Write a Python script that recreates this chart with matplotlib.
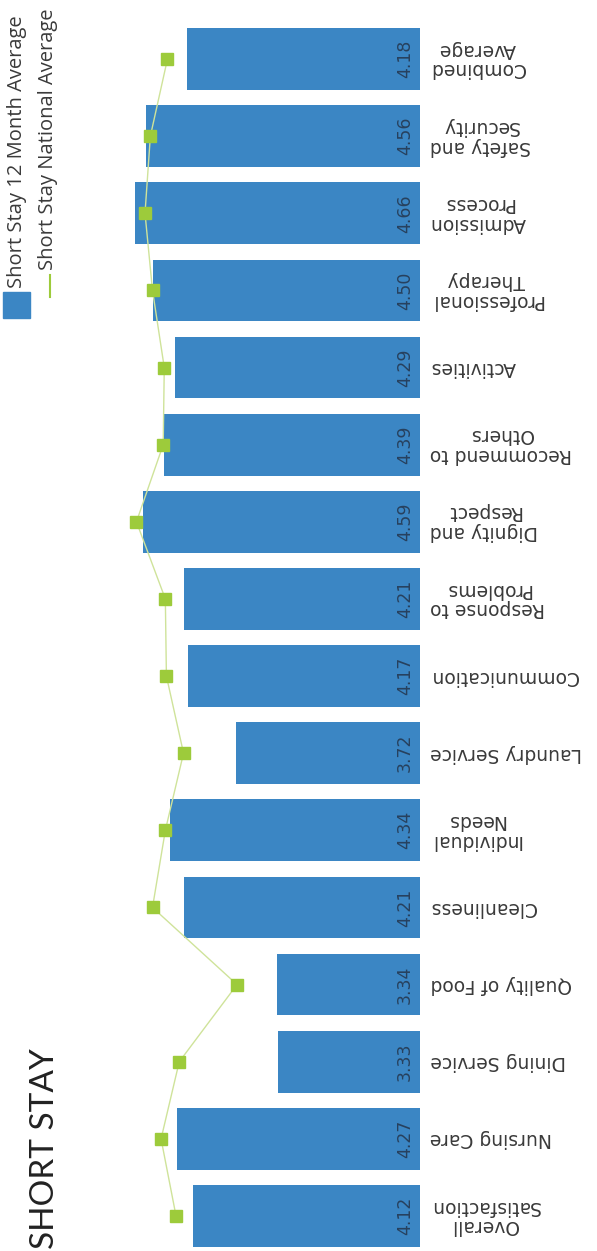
import matplotlib
matplotlib.use("Agg")
import matplotlib.pyplot as plt
from matplotlib.patches import Rectangle
from matplotlib.lines import Line2D

# survey categories, bottom row first
categories = ['Overall\nSatisfaction', 'Nursing Care', 'Dining Service', 'Quality of Food',
              'Cleanliness', 'Individual\nNeeds', 'Laundry Service', 'Communication',
              'Response to\nProblems', 'Dignity and\nRespect', 'Recommend to\nOthers',
              'Activities', 'Professional\nTherapy', 'Admission\nProcess',
              'Safety and\nSecurity', 'Combined\nAverage']
twelve_month = [4.12, 4.27, 3.33, 3.34, 4.21, 4.34, 3.72, 4.17,
                4.21, 4.59, 4.39, 4.29, 4.50, 4.66, 4.56, 4.18]
national = [4.28, 4.42, 4.25, 3.71, 4.50, 4.38, 4.21, 4.37,
            4.38, 4.65, 4.40, 4.39, 4.50, 4.57, 4.52, 4.36]

legend_bar = 'Short Stay 12 Month Average'
legend_line = 'Short Stay National Average'
title = 'SHORT STAY'

W, H = 597, 1251
BLUE = '#3b86c4'
GREEN = '#9dcb3b'
LINEGREEN = '#cfe39a'
TEXT = '#3a3a3a'

fig = plt.figure(figsize=(W / 100, H / 100), dpi=100)
fig.patch.set_facecolor('white')

def fx(px):
    return px / W

def fy(py):
    return 1 - py / H

# plot area: value 2 sits at x=420px, ~107px per unit, growing to the left
base_px = 420
ppu = 107.0
ax = fig.add_axes([0, 0, fx(base_px), 1])
ax.set_xlim(2 + base_px / ppu, 2)
pitch = (1216 - 59) / 15
ax.set_ylim(-35 / pitch, 15 + 59 / pitch)
ax.axis('off')

y = list(range(len(categories)))
ax.barh(y, [v - 2 for v in twelve_month], left=2, height=0.8, color=BLUE, zorder=2)
ax.plot(national, y, color=LINEGREEN, lw=1.0, zorder=3)
ax.plot(national, y, ls='none', marker='s', ms=8.5, color=GREEN, zorder=4)

for i, v in enumerate(twelve_month):
    ax.text(2 + 15 / ppu, i, f'{v:.2f}', rotation=90, ha='center', va='center',
            fontsize=12.5, color='#27415e', family='DejaVu Sans', zorder=5)

for i, c in enumerate(categories):
    ax.text(2 - 10 / ppu, i, c, rotation=180, ha='left', va='center',
            multialignment='center', fontsize=13.5, color=TEXT,
            family='DejaVu Sans', linespacing=1.05, clip_on=False)

# legend
fig.add_artist(Rectangle((fx(3), fy(318)), fx(27), 26 / H, color=BLUE,
                         transform=fig.transFigure))
fig.add_artist(Line2D([fx(50), fx(50)], [fy(297), fy(275)], color=GREEN, lw=1.5,
                      transform=fig.transFigure))
fig.text(fx(17), fy(288), legend_bar, rotation=90, ha='center', va='bottom',
         fontsize=14.5, color=TEXT, family='Open Sans')
fig.text(fx(48), fy(270), legend_line, rotation=90, ha='center', va='bottom',
         fontsize=14.5, color=TEXT, family='Open Sans')

fig.text(fx(45), fy(1249), title, rotation=90, ha='center', va='bottom',
         fontsize=24, color='#222222', family='Lato')

fig.savefig('out.png', dpi=100)
